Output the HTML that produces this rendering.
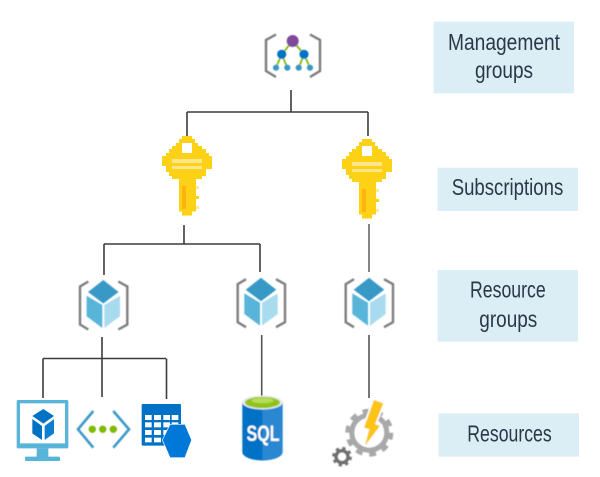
<!DOCTYPE html>
<html>
<head>
<meta charset="utf-8">
<style>
html,body{margin:0;padding:0;background:#fff;width:600px;height:477px;overflow:hidden}
svg{display:block}
text{font-family:"Liberation Sans",sans-serif;fill:#2a3748}
</style>
</head>
<body>
<svg width="600" height="477" viewBox="0 0 600 477" xmlns="http://www.w3.org/2000/svg">
<defs>
<filter id="b" x="-10%" y="-10%" width="120%" height="120%"><feGaussianBlur stdDeviation="0.55"/></filter>
<filter id="t" x="-5%" y="-5%" width="110%" height="110%"><feGaussianBlur stdDeviation="0.3"/></filter>
<g id="key" shape-rendering="crispEdges">
  <rect x="96" y="33" width="30" height="9" fill="#fcd116"/>
  <rect x="87" y="42" width="48" height="12" fill="#fcd116"/>
  <rect x="78" y="54" width="66" height="9" fill="#fcd116"/>
  <rect x="66" y="63" width="90" height="9" fill="#fcd116"/>
  <rect x="57" y="72" width="111" height="12" fill="#fcd116"/>
  <rect x="48" y="84" width="129" height="9" fill="#fcd116"/>
  <rect x="36" y="93" width="150" height="30" fill="#fcd116"/>
  <rect x="48" y="123" width="138" height="9" fill="#fcd116"/>
  <rect x="48" y="132" width="120" height="9" fill="#fcd116"/>
  <rect x="57" y="141" width="111" height="12" fill="#fcd116"/>
  <rect x="66" y="153" width="90" height="9" fill="#fcd116"/>
  <rect x="87" y="162" width="51" height="98" fill="#fcd116"/>
  <rect x="96" y="260" width="30" height="12" fill="#fcd116"/>
  <rect x="96" y="54" width="30" height="30" fill="#fff"/>
  <rect x="66" y="102" width="90" height="12" fill="#fde68a"/>
  <rect x="66" y="123" width="90" height="9" fill="#fde68a"/>
  <rect x="96" y="183" width="12" height="69" fill="#ffb30f"/>
  <rect x="138" y="183" width="9" height="9" fill="#fdeaa0"/>
  <rect x="138" y="213" width="9" height="9" fill="#fcd116"/>
  <rect x="138" y="243" width="9" height="9" fill="#fdeaa0"/>
</g>
<g id="rg">
  <polygon points="0,-23 15.3,-11 0,0.5 -15.3,-11" fill="#3999c6"/>
  <polygon points="-16.7,-7.3 -1,2 -1,25 -16.7,13.3" fill="#59b4d9"/>
  <polygon points="16.7,-7.3 1,2 1,25 16.7,13.3" fill="#a9dbef"/>
  <polyline points="-15,-21.5 -23.3,-16.5 -23.3,21.5 -15,26.5" fill="none" stroke="#7d7d7d" stroke-width="2.4"/>
  <polyline points="15,-21.5 24,-16.5 24,21.5 15,26.5" fill="none" stroke="#7d7d7d" stroke-width="2.4"/>
</g>
</defs>

<!-- connectors -->
<g fill="none" stroke="#3c3c3c" stroke-width="1.6">
  <path d="M291 90V112M187 112H368M187 112V136M368 112V136"/>
  <path d="M184 225V244M104 244H260M104 244V275M260 244V272"/>
  <path d="M369 224V272" stroke="#666"/>
  <path d="M102 337V358.5M43 358.5H166M43 358.5V398M102 358.5V397M166.5 358.5V399"/>
  <path d="M261.7 335V396M369 335V398" stroke="#555"/>
</g>

<!-- management group icon -->
<g filter="url(#b)">
  <polyline points="276,34.5 266,40 266,71 276,77" fill="none" stroke="#7a7a7a" stroke-width="2.4"/>
  <polyline points="310,34.5 320,40 320,71 310,77" fill="none" stroke="#7a7a7a" stroke-width="2.4"/>
  <g stroke="#7fba00" stroke-width="1.8" fill="none">
    <path d="M292.7 41L281.7 54.3L276 67.7M281.7 54.3L287.3 67.7M292.7 41L304 54.3L298.7 67.7M304 54.3L310 67.7"/>
  </g>
  <circle cx="292.7" cy="41" r="6" fill="#7f4a9e"/>
  <circle cx="281.7" cy="54.3" r="4.6" fill="#0072c6"/>
  <circle cx="304" cy="54.3" r="4.6" fill="#0072c6"/>
  <circle cx="276" cy="67.7" r="3.1" fill="#3999c6"/>
  <circle cx="287.3" cy="67.7" r="3.1" fill="#3999c6"/>
  <circle cx="298.7" cy="67.7" r="3.1" fill="#3999c6"/>
  <circle cx="310" cy="67.7" r="3.1" fill="#3999c6"/>
</g>

<!-- keys -->
<use href="#key" transform="translate(150 125) scale(.33333)"/>
<use href="#key" transform="translate(330 128) scale(.33333)"/>

<!-- resource groups -->
<g filter="url(#b)">
  <use href="#rg" transform="translate(103.3 303)"/>
  <use href="#rg" transform="translate(261 300.7)"/>
  <use href="#rg" transform="translate(369 300.7)"/>
</g>

<!-- VM -->
<g filter="url(#b)" transform="translate(5 385) scale(.33333)">
  <rect x="35" y="45" width="155" height="145" rx="4" fill="#59b4d9"/>
  <rect x="45" y="55" width="135" height="120" fill="#fff"/>
  <rect x="95" y="190" width="35" height="28" fill="#59b4d9"/>
  <rect x="60" y="215" width="105" height="13" rx="3" fill="#59b4d9"/>
  <polygon points="115,72 147,93 115,116 82,93" fill="#0072c6"/>
  <polygon points="82,102 111,123 111,165 82,145" fill="#0072c6"/>
  <polygon points="147,102 119,123 119,165 147,145" fill="#0f7fd0"/>
</g>

<!-- code icon -->
<g filter="url(#b)">
  <polyline points="93.3,411 78,429.3 93.3,447.7" fill="none" stroke="#3999c6" stroke-width="2.6"/>
  <polyline points="113.3,411 129,429.3 113.3,447.7" fill="none" stroke="#3999c6" stroke-width="2.6"/>
  <circle cx="92.3" cy="429.3" r="3.7" fill="#7fba00"/>
  <circle cx="102.7" cy="429.3" r="3.7" fill="#7fba00"/>
  <circle cx="113.3" cy="429.3" r="3.7" fill="#7fba00"/>
</g>

<!-- table icon -->
<g filter="url(#b)" transform="translate(5 385) scale(.33333)">
  <rect x="410" y="57" width="118" height="125" rx="3" fill="#0072c6"/>
  <g fill="#fff">
    <rect x="420" y="90" width="20" height="15"/><rect x="447" y="90" width="21" height="15"/><rect x="475" y="90" width="20" height="15"/><rect x="500" y="90" width="20" height="15"/>
    <rect x="420" y="112" width="20" height="15"/><rect x="447" y="112" width="21" height="15"/><rect x="475" y="112" width="20" height="15"/><rect x="500" y="112" width="20" height="15"/>
    <rect x="420" y="135" width="20" height="15"/><rect x="447" y="135" width="21" height="15"/><rect x="475" y="135" width="20" height="15"/>
    <rect x="420" y="158" width="20" height="14"/><rect x="447" y="158" width="21" height="14"/>
  </g>
  <polygon points="495,118 540,118 560,165 540,218 495,218 472,165" fill="#0078d7" stroke="#fff" stroke-width="2"/>
</g>

<!-- SQL -->
<g filter="url(#b)">
  <path d="M242.3 402V452C242.3 457 252 460.5 262.5 460.5V402Z" fill="#0072c6"/>
  <path d="M282.7 402V452C282.7 457 273 460.5 262.5 460.5V402Z" fill="#2a88d2"/>
  <ellipse cx="262.5" cy="402.5" rx="20.2" ry="7" fill="#e8e8e8"/>
  <ellipse cx="262.5" cy="402.5" rx="17.5" ry="5.5" fill="#8fc31f"/>
  <ellipse cx="262.5" cy="400.5" rx="11" ry="2.8" fill="#b8dc55"/>
  <text x="246.5" y="441" font-size="22" font-weight="bold" textLength="33" lengthAdjust="spacingAndGlyphs" style="fill:#fff">SQL</text>
</g>

<!-- gear + bolt -->
<g filter="url(#b)">
  <circle cx="369.3" cy="432.7" r="17.5" fill="none" stroke="#a8a9aa" stroke-width="5"/>
  <circle cx="369.3" cy="432.7" r="21.5" fill="none" stroke="#a8a9aa" stroke-width="5" stroke-dasharray="6.75 6.75"/>
  <polygon points="374,400 383.3,403.3 375,424.3 380,425.7 365,445.7 369.3,429 364,427.7" fill="#fff" stroke="#fff" stroke-width="3.5"/>
  <polygon points="374,400 383.3,403.3 375,424.3 380,425.7 365,445.7 369.3,429 364,427.7" fill="#fcc419"/>
  <circle cx="342" cy="456.7" r="11.5" fill="#fff"/>
  <circle cx="342" cy="456.7" r="6" fill="none" stroke="#707070" stroke-width="3.6"/>
  <circle cx="342" cy="456.7" r="8.6" fill="none" stroke="#707070" stroke-width="2.8" stroke-dasharray="3.4 3.35"/>
</g>

<!-- label boxes -->
<g fill="#dceef5">
  <rect x="433.7" y="21.7" width="140.3" height="71.6"/>
  <rect x="437.7" y="167.7" width="140.3" height="43.3"/>
  <rect x="437.7" y="270" width="140.3" height="71.7"/>
  <rect x="438.7" y="413.3" width="140.3" height="43.4"/>
</g>
<g font-size="23" filter="url(#t)">
  <text x="448" y="50" textLength="112" lengthAdjust="spacingAndGlyphs">Management</text>
  <text x="475" y="78" textLength="58" lengthAdjust="spacingAndGlyphs">groups</text>
  <text x="451.7" y="195" textLength="111.6" lengthAdjust="spacingAndGlyphs">Subscriptions</text>
  <text x="470" y="297.7" textLength="75.7" lengthAdjust="spacingAndGlyphs">Resource</text>
  <text x="479.3" y="327" textLength="58" lengthAdjust="spacingAndGlyphs">groups</text>
  <text x="467.3" y="441.7" textLength="84.4" lengthAdjust="spacingAndGlyphs">Resources</text>
</g>
</svg>
</body>
</html>
